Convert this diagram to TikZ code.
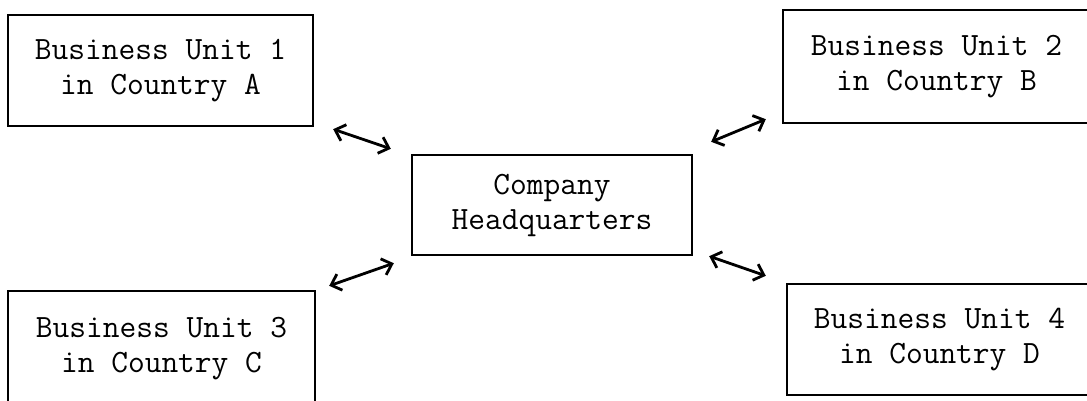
\documentclass[tikz,border=0pt]{standalone}
\usepackage{tikz}
\usetikzlibrary{
    arrows.meta,
    calc,
}

\begin{document}
\begin{tikzpicture}[x=1pt, y=1pt, line width=2.4pt,
    unit/.style = {draw, rectangle, align=center, inner sep=0pt,
        font=\fontsize{32.5}{35}\selectfont\ttfamily},
    link/.style = {{Straight Barb[length=9pt, width=17pt]}-{Straight Barb[length=9pt, width=17pt]}, line width=2.8pt}]
    \useasboundingbox (0,0) rectangle (1087,-400);
    \node[unit, minimum width=305, minimum height=111] (bu1) at (160.5,-70.5) {Business Unit 1\\in Country A};
    \node[unit, minimum width=307, minimum height=113] (bu2) at (936.5,-66.5) {Business Unit 2\\in Country B};
    \node[unit, minimum width=280, minimum height=100] (hq) at (552,-205) {Company\\Headquarters};
    \node[unit, minimum width=307, minimum height=115] (bu3) at (161.5,-348.5) {Business Unit 3\\in Country C};
    \node[unit, minimum width=305, minimum height=111] (bu4) at (939.5,-339.5) {Business Unit 4\\in Country D};
    % arrow ends, kept clear of the boxes
    \coordinate (a1) at ([shift={(19,-2)}]bu1.south east);
    \coordinate (a2) at ([shift={(-20,5)}]hq.north west);
    \coordinate (b1) at ([shift={(18,12)}]hq.north east);
    \coordinate (b2) at ([shift={(-16,5)}]bu2.south west);
    \coordinate (c1) at ([shift={(13,4)}]bu3.north east);
    \coordinate (c2) at ([shift={(-17,-7)}]hq.south west);
    \coordinate (d1) at ([shift={(16,0)}]hq.south east);
    \coordinate (d2) at ([shift={(-20,7)}]bu4.north west);
    \draw[link] (a1) -- (a2);
    \draw[link] (b1) -- (b2);
    \draw[link] (c1) -- (c2);
    \draw[link] (d1) -- (d2);
\end{tikzpicture}
\end{document}
